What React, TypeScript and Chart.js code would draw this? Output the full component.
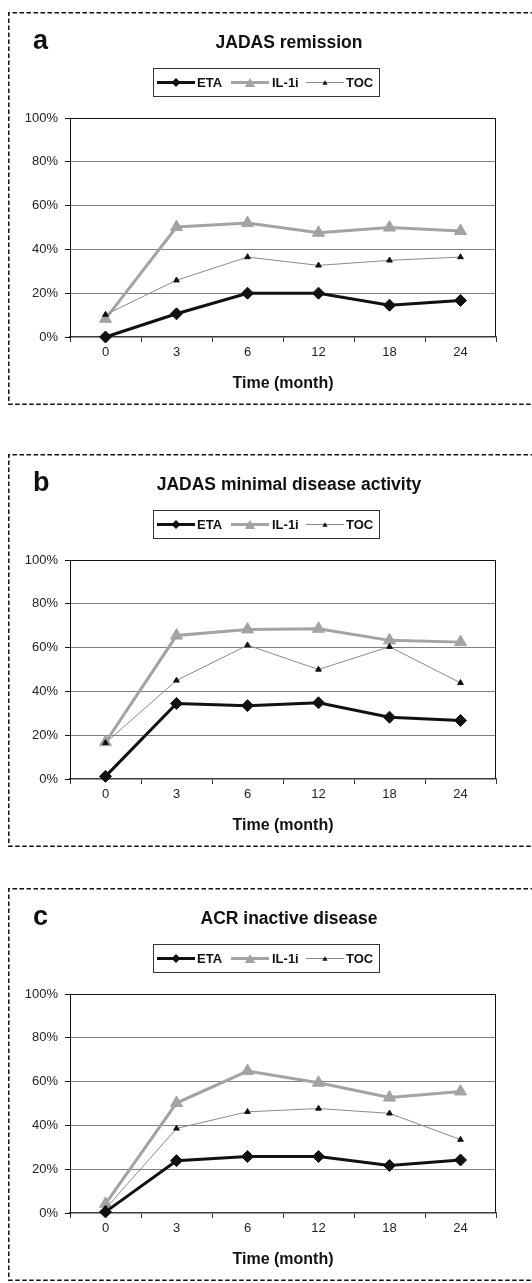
import React, { useEffect, useRef } from 'react';
import { Chart, registerables } from 'chart.js';

Chart.register(...registerables);

// ---------- data ----------
const categories = ['0', '3', '6', '12', '18', '24'];
const yTickLabels = ['0%', '20%', '40%', '60%', '80%', '100%'];
const seriesNames = ['ETA', 'IL-1i', 'TOC'];

const remissionETA = [0, 10.6, 20, 20, 14.5, 16.7];
const remissionIL1i = [8.3, 50.2, 52, 47.6, 50, 48.4];
const remissionTOC = [10.2, 25.9, 36.5, 32.7, 35, 36.5];

const mdaETA = [1.2, 34.5, 33.5, 34.8, 28.2, 26.7];
const mdaIL1i = [16.8, 65.5, 68.3, 68.6, 63.3, 62.5];
const mdaTOC = [16.5, 45, 61.1, 50, 60.4, 43.9];

const acrETA = [0.5, 23.9, 25.8, 25.8, 21.7, 24.2];
const acrIL1i = [4.2, 50.2, 64.8, 59.5, 52.7, 55.5];
const acrTOC = [2, 38.6, 46.2, 47.7, 45.5, 33.5];

const panelLetters = ['a', 'b', 'c'];
const panelTitles = ['JADAS remission', 'JADAS minimal disease activity', 'ACR inactive disease'];
const xAxisTitle = 'Time (month)';

const panelSeries = [
  [remissionETA, remissionIL1i, remissionTOC],
  [mdaETA, mdaIL1i, mdaTOC],
  [acrETA, acrIL1i, acrTOC],
];

// ---------- styles ----------
const FONT = '"Liberation Sans", Arial, Helvetica, sans-serif';
const CANVAS_W = 524;
const CANVAS_H = 393;
const panelTops = [12, 454, 888];

const seriesStyles = [
  { line: '#111111', width: 3, marker: 'rectRot', radius: 6, fill: '#111111' },
  { line: '#a3a3a3', width: 3, marker: 'triangle', radius: 7, fill: '#a3a3a3' },
  { line: '#8a8a8a', width: 1, marker: 'triangle', radius: 3.3, fill: '#111111' },
];

function pathDiamond(ctx: CanvasRenderingContext2D, x: number, y: number, r: number) {
  ctx.beginPath();
  ctx.moveTo(x, y - r);
  ctx.lineTo(x + r, y);
  ctx.lineTo(x, y + r);
  ctx.lineTo(x - r, y);
  ctx.closePath();
}

function pathTriangle(ctx: CanvasRenderingContext2D, x: number, y: number, r: number) {
  const h = r * 1.5;
  const w = r * Math.sqrt(3);
  ctx.beginPath();
  ctx.moveTo(x, y - h / 2);
  ctx.lineTo(x + w / 2, y + h / 2);
  ctx.lineTo(x - w / 2, y + h / 2);
  ctx.closePath();
}

const decorPlugin = {
  id: 'decor',
  beforeDraw(chart: any) {
    const ctx: CanvasRenderingContext2D = chart.ctx;
    ctx.save();
    ctx.strokeStyle = '#111';
    ctx.lineWidth = 1.5;
    ctx.setLineDash([4.5, 2.5]);
    ctx.beginPath();
    ctx.moveTo(chart.width + 10, 0.8);
    ctx.lineTo(0.8, 0.8);
    ctx.lineTo(0.8, chart.height - 0.8);
    ctx.lineTo(chart.width + 10, chart.height - 0.8);
    ctx.stroke();
    ctx.restore();
  },
  beforeDatasetsDraw(chart: any) {
    const ctx: CanvasRenderingContext2D = chart.ctx;
    const a = chart.chartArea;
    ctx.save();
    ctx.strokeStyle = '#111';
    ctx.lineWidth = 1;
    ctx.beginPath();
    ctx.moveTo(a.left, Math.round(a.top) + 0.5);
    ctx.lineTo(Math.round(a.right) - 0.5, Math.round(a.top) + 0.5);
    ctx.lineTo(Math.round(a.right) - 0.5, a.bottom);
    ctx.stroke();
    ctx.restore();
  },
  afterDraw(chart: any, _args: any, opts: any) {
    const ctx: CanvasRenderingContext2D = chart.ctx;
    ctx.save();
    // panel letter
    ctx.fillStyle = '#111';
    ctx.textBaseline = 'middle';
    ctx.textAlign = 'left';
    ctx.font = `bold 27px ${FONT}`;
    ctx.fillText(opts.letter, 25, 30);
    // title
    ctx.textAlign = 'center';
    ctx.font = `bold 17.5px ${FONT}`;
    ctx.fillText(opts.title, 281, 31);
    // legend box
    ctx.strokeStyle = '#333';
    ctx.lineWidth = 1;
    ctx.strokeRect(145.5, 56.5, 226, 28);
    const ly = 70.5;
    const items = [
      { x0: 149, x1: 187, tx: 189 },
      { x0: 223, x1: 261, tx: 264 },
      { x0: 298, x1: 336, tx: 338 },
    ];
    ctx.font = `bold 13px ${FONT}`;
    ctx.textAlign = 'left';
    chart.data.datasets.forEach((ds: any, i: number) => {
      const it = items[i];
      const st = seriesStyles[i];
      ctx.strokeStyle = st.line;
      ctx.lineWidth = st.width;
      ctx.beginPath();
      ctx.moveTo(it.x0, ly);
      ctx.lineTo(it.x1, ly);
      ctx.stroke();
      const cx = (it.x0 + it.x1) / 2;
      ctx.fillStyle = st.fill;
      if (st.marker === 'rectRot') pathDiamond(ctx, cx, ly, 4.5);
      else pathTriangle(ctx, cx, ly, i === 1 ? 6 : 3);
      ctx.fill();
      ctx.fillStyle = '#111';
      ctx.fillText(ds.label, it.tx, ly + 0.5);
    });
    ctx.restore();
  },
};

function Panel({ index }: { index: number }) {
  const ref = useRef<HTMLCanvasElement>(null);
  useEffect(() => {
    if (!ref.current) return;
    const series = panelSeries[index];
    const chart = new Chart(ref.current, {
      type: 'line',
      data: {
        labels: categories,
        datasets: series.map((values, i) => {
          const st = seriesStyles[i];
          return {
            label: seriesNames[i],
            data: values,
            borderColor: st.line,
            borderWidth: st.width,
            backgroundColor: st.fill,
            pointStyle: st.marker as any,
            pointRadius: st.radius,
            pointHoverRadius: st.radius,
            pointBackgroundColor: st.fill,
            pointBorderColor: st.fill,
            pointBorderWidth: 1,
            tension: 0,
            fill: false,
            clip: false as any,
            order: i === 2 ? 0 : i === 0 ? 1 : 2,
          };
        }),
      },
      options: {
        responsive: false,
        animation: false,
        layout: { padding: { top: 106, right: 36, left: 0, bottom: 0 } },
        plugins: {
          legend: { display: false },
          tooltip: { enabled: false },
          decor: { letter: panelLetters[index], title: panelTitles[index] },
        } as any,
        scales: {
          x: {
            offset: true,
            grid: {
              offset: true,
              drawOnChartArea: false,
              drawTicks: true,
              tickLength: 5,
              tickColor: '#333',
              lineWidth: 1,
            },
            border: { display: true, color: '#3a3a3a', width: 1.6 },
            ticks: {
              color: '#222',
              font: { family: FONT, size: 13 },
              padding: 3,
            },
            title: {
              display: true,
              text: xAxisTitle,
              color: '#111',
              font: { family: FONT, size: 16, weight: 'bold' },
              padding: { top: 0, bottom: 12 },
            },
            afterFit: (scale: any) => {
              scale.height = 68;
            },
          },
          y: {
            min: 0,
            max: 100,
            ticks: {
              stepSize: 20,
              color: '#222',
              font: { family: FONT, size: 13 },
              padding: 7,
              callback: (v: any) => yTickLabels[Math.round(Number(v) / 20)],
            },
            grid: {
              color: (c: any) =>
                c.tick && c.tick.value === 0 ? 'rgba(0,0,0,0)' : c.tick && c.tick.value === 100 ? '#111' : '#808080',
              tickColor: '#111',
              tickLength: 5,
              lineWidth: 1,
            },
            border: { display: true, color: '#111', width: 1 },
            afterFit: (scale: any) => {
              scale.width = 62;
            },
          },
        },
      } as any,
      plugins: [decorPlugin as any],
    });
    return () => chart.destroy();
  }, [index]);
  return (
    <canvas
      ref={ref}
      width={CANVAS_W}
      height={CANVAS_H}
      style={{
        position: 'absolute',
        left: 8,
        top: panelTops[index],
        width: CANVAS_W,
        height: CANVAS_H,
      }}
    />
  );
}

export default function App() {
  return (
    <div
      style={{
        position: 'fixed',
        left: 0,
        top: 0,
        width: 532,
        height: 1283,
        overflow: 'hidden',
        background: '#fff',
      }}
    >
      <Panel index={0} />
      <Panel index={1} />
      <Panel index={2} />
    </div>
  );
}
